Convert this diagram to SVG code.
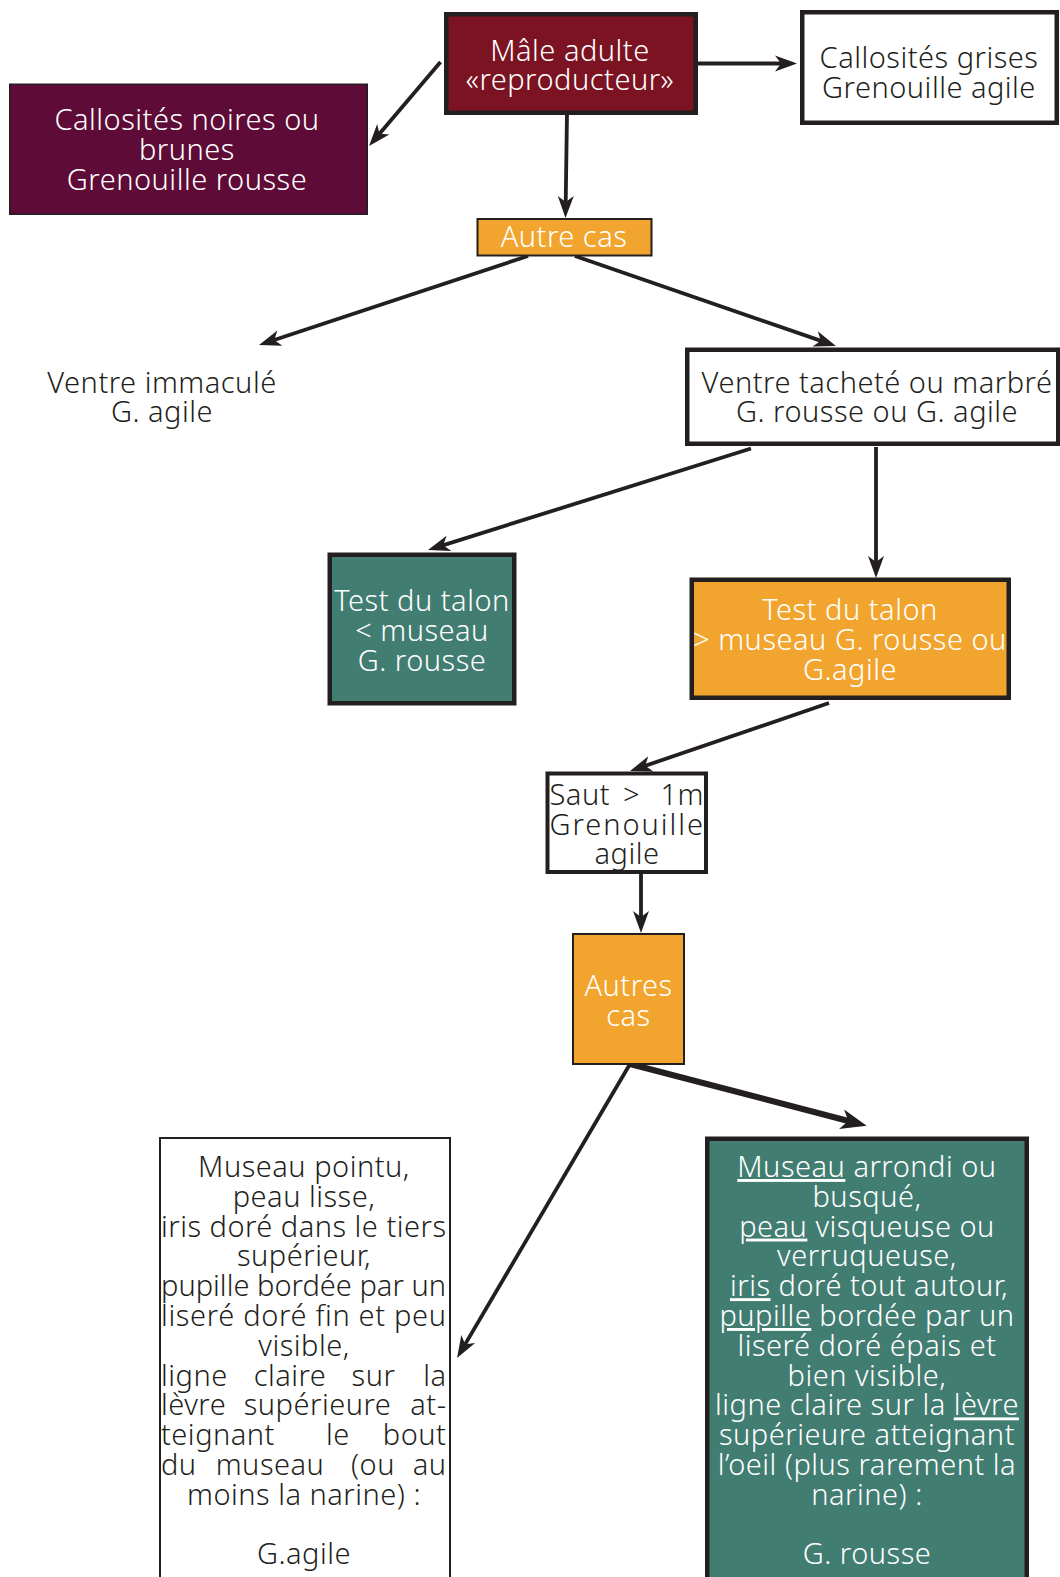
<svg xmlns="http://www.w3.org/2000/svg" width="1060" height="1577" viewBox="0 0 1060 1577">
<style>
.t{font-family:"Noto Sans","Liberation Sans",sans-serif;font-size:29px;font-weight:300;letter-spacing:0.5px}
.w{fill:#ffffff}
.d{fill:#231F20}
.c{text-anchor:middle}
.e{text-anchor:end}
.u{text-decoration:underline}
.box{stroke:#231F20}
.con{stroke:#231F20;stroke-width:3.8;fill:none}
.thick{stroke:#231F20;stroke-width:6;fill:none}
</style>
<defs>
<marker id="ah" markerUnits="userSpaceOnUse" viewBox="-16 -10 26 20" refX="0" refY="0" markerWidth="26" markerHeight="20" orient="auto" overflow="visible">
<path d="M8,0 L-14,-8 L-8,0 L-14,8 Z" fill="#231F20"/>
</marker>
<marker id="ahb" markerUnits="userSpaceOnUse" viewBox="-20 -12 32 24" refX="0" refY="0" markerWidth="32" markerHeight="24" orient="auto" overflow="visible">
<path d="M9,0 L-17,-10 L-10,0 L-17,10 Z" fill="#231F20"/>
</marker>
</defs>
<rect width="1060" height="1577" fill="#ffffff"/>

<g id="connectors">
<line class="con" x1="440.5" y1="62" x2="374.2" y2="139.9" marker-end="url(#ah)"/>
<line class="con" x1="698" y1="63.5" x2="789" y2="63.5" marker-end="url(#ah)"/>
<line class="con" x1="567" y1="113" x2="565.6" y2="210" marker-end="url(#ah)"/>
<line class="con" x1="528" y1="256" x2="266.6" y2="342.5" marker-end="url(#ah)"/>
<line class="con" x1="575" y1="256" x2="828.4" y2="343.4" marker-end="url(#ah)"/>
<line class="con" x1="751" y1="448.5" x2="435.6" y2="547.6" marker-end="url(#ah)"/>
<line class="con" x1="876" y1="447" x2="876" y2="570" marker-end="url(#ah)"/>
<line class="con" x1="829" y1="703" x2="637.6" y2="768.4" marker-end="url(#ah)"/>
<line class="con" x1="641" y1="874" x2="641" y2="925" marker-end="url(#ah)"/>
<line class="con" x1="630" y1="1064" x2="461.1" y2="1351.1" marker-end="url(#ah)"/>
<line class="thick" x1="630" y1="1064" x2="858" y2="1123.5" marker-end="url(#ahb)"/>
</g>

<g id="male">
<rect class="box" x="446.25" y="14.25" width="249.5" height="98.5" fill="#7B1323" stroke-width="4.5"/>
<text class="t w c" x="570" y="61">Mâle adulte</text>
<text class="t w c" x="570" y="90">«reproducteur»</text>
</g>

<g id="callosites-noires">
<rect class="box" x="9.75" y="84.25" width="357.5" height="130" fill="#5E0C37" stroke-width="1.5"/>
<text class="t w c" x="187" y="130">Callosités noires ou</text>
<text class="t w c" x="187" y="160">brunes</text>
<text class="t w c" x="187" y="190">Grenouille rousse</text>
</g>

<g id="callosites-grises">
<rect class="box" x="802.25" y="12.25" width="254.5" height="110.5" fill="#ffffff" stroke-width="4.5"/>
<text class="t d c" x="929" y="67.5">Callosités grises</text>
<text class="t d c" x="929" y="97.5">Grenouille agile</text>
</g>

<g id="autre-cas">
<rect class="box" x="477.5" y="219" width="174" height="36.5" fill="#F2A52E" stroke-width="2"/>
<text class="t w c" x="564" y="247">Autre cas</text>
</g>

<g id="ventre-immacule">
<text class="t d c" x="162" y="392.5">Ventre immaculé</text>
<text class="t d c" x="162" y="422">G. agile</text>
</g>

<g id="ventre-tachete">
<rect class="box" x="687.25" y="349.75" width="371" height="94" fill="#ffffff" stroke-width="4.5"/>
<text class="t d c" x="877" y="392.5">Ventre tacheté ou marbré</text>
<text class="t d c" x="877" y="422">G. rousse ou G. agile</text>
</g>

<g id="test-talon-inf">
<rect class="box" x="329.75" y="554.75" width="184.5" height="148.5" fill="#427D72" stroke-width="4.5"/>
<text class="t w c" x="422" y="611">Test du talon</text>
<text class="t w c" x="422" y="641">&lt; museau</text>
<text class="t w c" x="422" y="671">G. rousse</text>
</g>

<g id="test-talon-sup">
<rect class="box" x="691.75" y="579.75" width="317" height="118" fill="#F2A52E" stroke-width="4.5"/>
<text class="t w c" x="850" y="620">Test du talon</text>
<text class="t w c" x="850" y="650">&gt; museau G. rousse ou</text>
<text class="t w c" x="850" y="680">G.agile</text>
</g>

<g id="saut">
<rect class="box" x="547.5" y="773.5" width="158.5" height="98.5" fill="#ffffff" stroke-width="4"/>
<text class="t d" x="549.5" y="805">Saut</text>
<text class="t d c" x="631.5" y="805">&gt;</text>
<text class="t d e" x="704" y="805">1m</text>
<text class="t d" x="549.5" y="834.5" textLength="154" lengthAdjust="spacing">Grenouille</text>
<text class="t d c" x="627" y="864">agile</text>
</g>

<g id="autres-cas">
<rect class="box" x="573" y="934" width="111" height="130" fill="#F2A52E" stroke-width="2"/>
<text class="t w c" x="628.5" y="995.5">Autres</text>
<text class="t w c" x="628.5" y="1025.5">cas</text>
</g>

<g id="g-agile">
<rect class="box" x="160" y="1138" width="290" height="460" fill="#ffffff" stroke-width="2"/>
<text class="t d c" x="304" y="1177">Museau pointu,</text>
<text class="t d c" x="304" y="1206.8">peau lisse,</text>
<text class="t d" x="161" y="1236.6" textLength="285.5" lengthAdjust="spacing">iris doré dans le tiers</text>
<text class="t d c" x="304" y="1266.4">supérieur,</text>
<text class="t d" x="161" y="1296.2" textLength="285.5" lengthAdjust="spacing">pupille bordée par un</text>
<text class="t d" x="161" y="1326" textLength="285.5" lengthAdjust="spacing">liseré doré fin et peu</text>
<text class="t d c" x="304" y="1355.8">visible,</text>
<text class="t d" x="161" y="1385.6">ligne</text>
<text class="t d c" x="290" y="1385.6">claire</text>
<text class="t d c" x="373.5" y="1385.6">sur</text>
<text class="t d e" x="446.5" y="1385.6">la</text>
<text class="t d" x="161" y="1415.4">lèvre</text>
<text class="t d c" x="317.5" y="1415.4">supérieure</text>
<text class="t d e" x="446.5" y="1415.4">at-</text>
<text class="t d" x="161" y="1445.2">teignant</text>
<text class="t d c" x="338" y="1445.2">le</text>
<text class="t d e" x="446.5" y="1445.2">bout</text>
<text class="t d" x="161" y="1475">du</text>
<text class="t d c" x="270" y="1475">museau</text>
<text class="t d c" x="373" y="1475">(ou</text>
<text class="t d e" x="446.5" y="1475">au</text>
<text class="t d c" x="304" y="1504.8">moins la narine) :</text>
<text class="t d c" x="304" y="1564.4">G.agile</text>
</g>

<g id="g-rousse">
<rect class="box" x="707.25" y="1138.75" width="319.5" height="460" fill="#427D72" stroke-width="4.5"/>
<text class="t w c" x="867" y="1177"><tspan class="u">Museau</tspan> arrondi ou</text>
<text class="t w c" x="867" y="1206.8">busqué,</text>
<text class="t w c" x="867" y="1236.6"><tspan class="u">peau</tspan> visqueuse ou</text>
<text class="t w c" x="867" y="1266.4">verruqueuse,</text>
<text class="t w c" x="869" y="1296.2"><tspan class="u">iris</tspan> doré tout autour,</text>
<text class="t w c" x="867" y="1326"><tspan class="u">pupille</tspan> bordée par un</text>
<text class="t w c" x="867" y="1355.8">liseré doré épais et</text>
<text class="t w c" x="867" y="1385.6">bien visible,</text>
<text class="t w c" x="867" y="1415.4">ligne claire sur la <tspan class="u">lèvre</tspan></text>
<text class="t w c" x="867" y="1445.2">supérieure atteignant</text>
<text class="t w c" x="867" y="1475">l’oeil (plus rarement la</text>
<text class="t w c" x="867" y="1504.8">narine) :</text>
<text class="t w c" x="867" y="1564.4">G. rousse</text>
</g>
</svg>
